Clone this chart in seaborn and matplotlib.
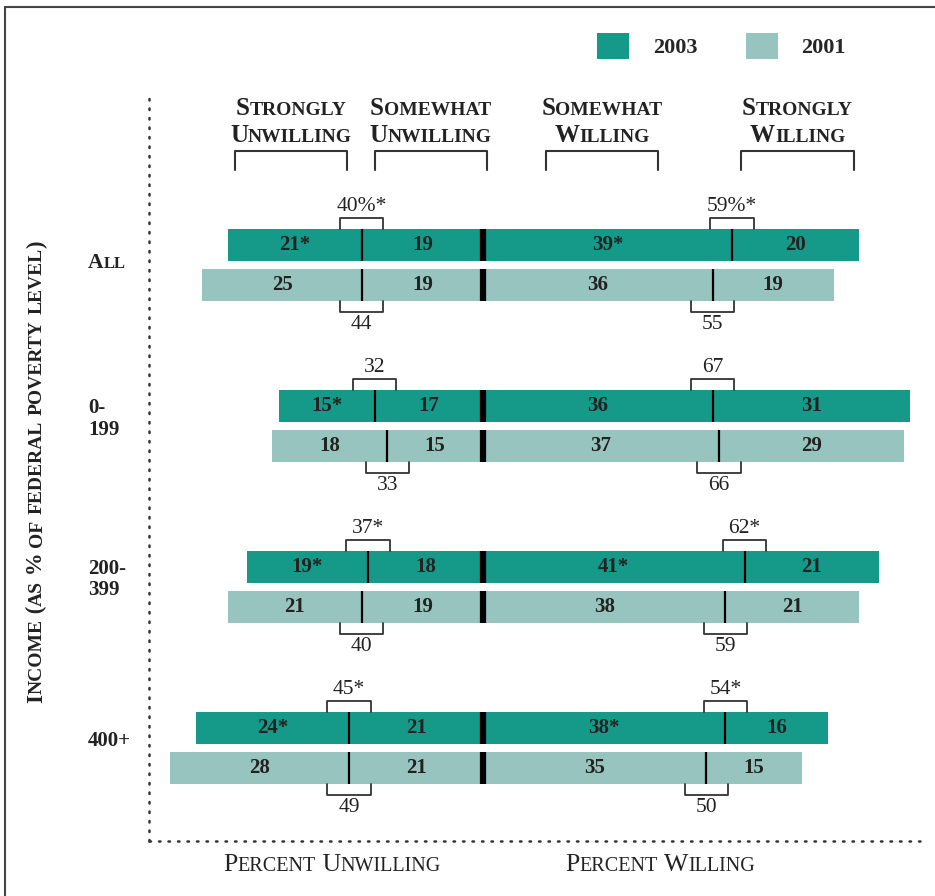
import numpy as np
import pandas as pd
import seaborn as sns
import matplotlib.pyplot as plt
from matplotlib.lines import Line2D
from matplotlib.transforms import IdentityTransform, blended_transform_factory

groups = ["All", "0-199", "200-399", "400+"]
group_labels = ["All", "0-\n199", "200-\n399", "400+"]
years = ["2003", "2001"]

# 2003
strong_unw_2003 = [21, 15, 19, 24]
some_unw_2003 = [19, 17, 18, 21]
some_wil_2003 = [39, 36, 41, 38]
strong_wil_2003 = [20, 31, 21, 16]
# 2001
strong_unw_2001 = [25, 18, 21, 28]
some_unw_2001 = [19, 15, 19, 21]
some_wil_2001 = [36, 37, 38, 35]
strong_wil_2001 = [19, 29, 21, 15]

# stars = significant change since 2001
star_strong_unw_2003 = [True, True, True, True]
star_some_wil_2003 = [True, False, True, True]
star_unw_total_2003 = [True, False, True, True]
star_wil_total_2003 = [True, False, True, True]

headers = ["Strongly\nUnwilling", "Somewhat\nUnwilling", "Somewhat\nWilling", "Strongly\nWilling"]

c2003 = "#159a8a"
c2001 = "#98c4bf"
ink = "#222222"

rows = []
for yr, su, swu, sww, stw in [("2003", strong_unw_2003, some_unw_2003, some_wil_2003, strong_wil_2003),
                              ("2001", strong_unw_2001, some_unw_2001, some_wil_2001, strong_wil_2001)]:
    for g, a, b, c, d in zip(groups, su, swu, sww, stw):
        rows.append({"group": g, "year": yr, "su": a, "swu": b, "sww": c, "stw": d})
df = pd.DataFrame(rows)
df["unwilling"] = -(df["su"] + df["swu"])
df["willing"] = df["sww"] + df["stw"]

sns.set_style("white")
plt.rcParams["font.family"] = ["Liberation Serif", "DejaVu Serif"]

W, H = 935, 896
fig = plt.figure(figsize=(W / 100, H / 100), dpi=100)
ax = fig.add_axes([149 / W, (H - 841) / H, (922 - 149) / W, (841 - 96) / H])

sns.barplot(data=df, y="group", x="willing", hue="year", hue_order=years, order=groups,
            palette=[c2003, c2001], orient="h", width=0.5, gap=0.2, saturation=1,
            errorbar=None, linewidth=0, ax=ax, legend=True)
sns.barplot(data=df, y="group", x="unwilling", hue="year", hue_order=years, order=groups,
            palette=[c2003, c2001], orient="h", width=0.5, gap=0.2, saturation=1,
            errorbar=None, linewidth=0, ax=ax, legend=False)

scale = 6.38  # px per percent point
ax.set_xlim(-(483 - 149) / scale, (922 - 483) / scale)
ax.set_ylim(3.578, -1.05)
ax.set_xticks([])
ax.set_yticks([])
ax.set_xlabel("")
ax.set_ylabel("")
for s in ["top", "right"]:
    ax.spines[s].set_visible(False)
for s in ["left", "bottom"]:
    ax.spines[s].set_linestyle((0, (0.6, 3.2)))
    ax.spines[s].set_linewidth(1.8)
    ax.spines[s].set_capstyle("round")
    ax.spines[s].set_color("#333333")

# segment lines, numbers and total brackets
for k, yr in enumerate(years):
    sub = df[df["year"] == yr].set_index("group").loc[groups]
    for i, p in enumerate(ax.containers[k]):
        yc = p.get_y() + p.get_height() / 2
        h = p.get_height()
        top, bot = yc - h / 2, yc + h / 2
        r = sub.iloc[i]
        ax.vlines([-r["swu"], r["sww"]], top, bot, color="black", lw=1.6, zorder=3)
        ax.vlines(0, top, bot, color="black", lw=4.5, zorder=3)

        st1 = "*" if (yr == "2003" and star_strong_unw_2003[i]) else ""
        st2 = "*" if (yr == "2003" and star_some_wil_2003[i]) else ""
        seg = [(-(r["swu"] + r["su"] / 2), f"{r['su']}{st1}"),
               (-r["swu"] / 2, f"{r['swu']}"),
               (r["sww"] / 2, f"{r['sww']}{st2}"),
               (r["sww"] + r["stw"] / 2, f"{r['stw']}")]
        for x, t in seg:
            ax.text(x, yc, t, ha="center", va="center", fontsize=15, fontweight="bold",
                    color=ink, zorder=4)

        pct = "%" if i == 0 and yr == "2003" else ""
        totals = [(-r["swu"], -r["unwilling"], star_unw_total_2003[i]),
                  (r["sww"], r["willing"], star_wil_total_2003[i])]
        for x, tot, star in totals:
            lbl = f"{tot}{pct}" + ("*" if (yr == "2003" and star) else "")
            hw = 3.4
            if yr == "2003":
                yb = top - 0.068
                ax.plot([x - hw, x - hw, x + hw, x + hw], [top, yb, yb, top], color="#333333", lw=1.3)
                ax.text(x, yb - 0.012, lbl, ha="center", va="bottom", fontsize=15.5, color=ink)
            else:
                yb = bot + 0.068
                ax.plot([x - hw, x - hw, x + hw, x + hw], [bot, yb, yb, bot], color="#333333", lw=1.3)
                ax.text(x, yb + 0.015, lbl, ha="center", va="top", fontsize=15.5, color=ink)

# header brackets
hdr_spans = [(-38.9, -21.3), (-17.0, 0.6), (9.8, 27.5), (40.5, 58.1)]
for x0, x1 in hdr_spans:
    ax.plot([x0, x0, x1, x1], [-0.59, -0.708, -0.708, -0.59], color="#333333", lw=1.5, clip_on=False)


def small_caps(x, y, s, big, small, ha="center", rot=False, **kw):
    # fake small caps: lower case letters drawn as smaller capitals
    runs = []
    for ch in s:
        size = small if ch.islower() else big
        if runs and runs[-1][1] == size:
            runs[-1][0] += ch.upper()
        else:
            runs.append([ch.upper(), size])
    rend = fig.canvas.get_renderer()

    def width(t, size):
        a = fig.text(0, 0, "X" + t + "X", fontsize=size, **kw)
        b = fig.text(0, 0, "XX", fontsize=size, **kw)
        w = a.get_window_extent(rend).width - b.get_window_extent(rend).width
        a.remove()
        b.remove()
        return w

    widths = [width(t, size) for t, size in runs]
    pos = {"left": 0, "center": -sum(widths) / 2}[ha]
    for (t, size), w in zip(runs, widths):
        if rot:
            fig.text(x, y + pos, t, fontsize=size, rotation=90, rotation_mode="anchor",
                     ha="left", va="baseline", transform=IdentityTransform(), color=ink, **kw)
        else:
            fig.text(x + pos, y, t, fontsize=size, ha="left", va="baseline",
                     transform=IdentityTransform(), color=ink, **kw)
        pos += w


for (x0, x1), hd in zip(hdr_spans, headers):
    xc = ax.transData.transform(((x0 + x1) / 2, 0))[0]
    l1, l2 = hd.split("\n")
    small_caps(xc, H - 115, l1, 18, 14, fontweight="bold")
    small_caps(xc, H - 142, l2, 18, 14, fontweight="bold")

# group labels on the left
tr = blended_transform_factory(IdentityTransform(), ax.transData)
for i, lab in enumerate(group_labels):
    if lab == "All":
        yd = ax.transData.transform((0, i))[1]
        small_caps(88, yd - 3, lab, 15.5, 12, ha="left", fontweight="bold")
    else:
        ax.text(88, i - 0.045, lab, transform=tr, ha="left", va="center", fontsize=15,
                fontweight="bold", color=ink, linespacing=1.1)

small_caps(42, H - 472, "Income (as % of federal poverty level)", 16.5, 14, rot=True, fontweight="bold")
small_caps(332, H - 871, "Percent Unwilling", 18.5, 14.5)
small_caps(660, H - 871, "Percent Willing", 18.5, 14.5)

sns.move_legend(ax, "center left", bbox_to_anchor=(597 / W, 1 - 46 / H), bbox_transform=fig.transFigure,
                ncol=2, frameon=False, title=None, handlelength=1.44, handleheight=1.44,
                handletextpad=1.08, columnspacing=2.16, borderpad=0, borderaxespad=0,
                prop={"size": 16, "weight": "bold"})

# outer frame
fig.add_artist(Line2D([5 / W, 5 / W], [0, 1 - 7 / H], transform=fig.transFigure, color="#444444", lw=1.5))
fig.add_artist(Line2D([5 / W, 1], [1 - 7 / H, 1 - 7 / H], transform=fig.transFigure, color="#444444", lw=1.5))

fig.savefig("out.png", dpi=100)
